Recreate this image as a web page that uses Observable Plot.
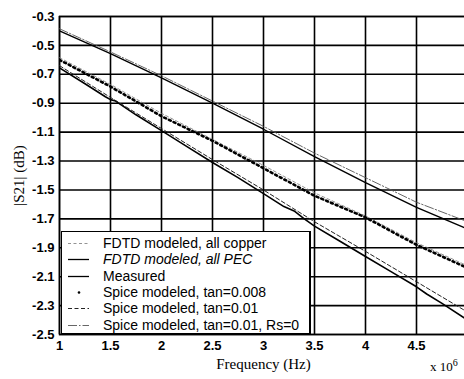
<!DOCTYPE html>
<html>
<head>
<meta charset="utf-8">
<script src="https://cdn.jsdelivr.net/npm/d3@7"></script>
<script src="https://cdn.jsdelivr.net/npm/@observablehq/plot@0.6"></script>
<style>
  html, body { margin: 0; padding: 0; background: #fff; }
  #wrap { position: relative; width: 464px; height: 379px; overflow: hidden; }
  #wrap svg g[aria-label="x-axis label"] text,
  #wrap svg g[aria-label="y-axis label"] text {
    font-family: "Liberation Serif", "DejaVu Serif", serif; font-weight: normal; font-size: 15px;
  }
  #legend {
    position: absolute; left: 61px; top: 231px; width: 247px; height: 101px;
    background: #fff; border: 1.3px solid #000; border-right-width: 2.2px;
    font-family: "Liberation Sans", Arial, sans-serif; font-size: 14px; color: #000;
  }
  #legend .row { position: absolute; left: 0; height: 16px; line-height: 16px; white-space: nowrap; }
  #legend .row svg { position: absolute; left: 6px; top: 0; }
  #legend .row span { position: absolute; left: 41px; top: 0; }
  #exp { position: absolute; left: 430px; top: 359px; line-height: 16px; font-family: "Liberation Serif", serif; font-size: 13px; }
  #exp sup { font-size: 10px; line-height: 0; }
</style>
</head>
<body>
<div id="wrap"></div>
<script>
// ---- data ----
const freq = [1, 1.5, 2, 2.5, 3, 3.5, 4, 4.5, 5];           // x 10^6 Hz
const fdtdCopper = [-0.585, -0.77, -0.97, -1.15, -1.33, -1.52, -1.68, -1.865, -2.025];
const fdtdPEC    = [-0.40, -0.557, -0.725, -0.90, -1.08, -1.27, -1.45, -1.62, -1.77];
const spice008   = [-0.60, -0.785, -0.99, -1.16, -1.35, -1.54, -1.69, -1.88, -2.04];
const spice01    = [-0.64, -0.86, -1.075, -1.29, -1.50, -1.72, -1.925, -2.135, -2.345];
const spiceRs0   = [-0.385, -0.545, -0.71, -0.885, -1.06, -1.245, -1.415, -1.585, -1.72];
const measFreq   = [1, 1.25, 1.45, 1.5, 1.55, 1.75, 2, 2.25, 2.5, 2.75, 3, 3.2, 3.3, 3.4, 3.5, 3.75, 4, 4.25, 4.5, 4.6, 4.75, 5];
const measured   = [-0.655, -0.765, -0.855, -0.875, -0.885, -0.98, -1.09, -1.2, -1.31, -1.415, -1.525, -1.615, -1.645, -1.70, -1.75, -1.855, -1.96, -2.065, -2.17, -2.22, -2.285, -2.40];
const xTicks = [1, 1.5, 2, 2.5, 3, 3.5, 4, 4.5, 5];
const yTicks = [-0.3, -0.5, -0.7, -0.9, -1.1, -1.3, -1.5, -1.7, -1.9, -2.1, -2.3, -2.5];
const legendLabels = [
  "FDTD modeled, all copper",
  "FDTD modeled, all PEC",
  "Measured",
  "Spice modeled, tan=0.008",
  "Spice modeled, tan=0.01",
  "Spice modeled, tan=0.01, Rs=0"
];

// ---- build tables ----
const toRows = (ys, xs = freq) => ys.map((y, i) => ({x: xs[i], y}));
const styles = [
  {data: toRows(fdtdCopper), stroke: "#777", strokeWidth: 0.8, dash: "3,2.5", italic: false},
  {data: toRows(fdtdPEC),    stroke: "#000", strokeWidth: 1.4, dash: null, italic: true},
  {data: toRows(measured, measFreq), stroke: "#000", strokeWidth: 1.6, dash: null, italic: false},
  {data: toRows(spice008),   stroke: "#000", strokeWidth: 2.6, dash: "2,3.2", italic: false, dot: true},
  {data: toRows(spice01),    stroke: "#222", strokeWidth: 1.0, dash: "4,2.5", italic: false},
  {data: toRows(spiceRs0),   stroke: "#555", strokeWidth: 0.9, dash: "9,2,1.5,2", italic: false}
];

const lineMarks = styles.map(s => Plot.line(s.data, {
  x: "x", y: "y", stroke: s.stroke, strokeWidth: s.strokeWidth,
  strokeDasharray: s.dash || undefined, clip: true
}));

const chart = Plot.plot({
  width: 464, height: 379,
  marginLeft: 59, marginRight: -3, marginTop: 16, marginBottom: 45,
  style: {fontFamily: "Liberation Sans, Arial, sans-serif", fontSize: "13px", fontWeight: "bold", color: "#000", background: "#fff"},
  x: {domain: [1, 5]},
  y: {domain: [-2.5, -0.3]},
  marks: [
    Plot.gridX(xTicks, {stroke: "#000", strokeOpacity: 1, strokeWidth: 1.6}),
    Plot.gridY(yTicks, {stroke: "#000", strokeOpacity: 1, strokeWidth: 1.6}),
    Plot.frame({stroke: "#000", strokeWidth: 1.5}),
    ...lineMarks,
    Plot.axisX(xTicks, {tickSize: 0, tickPadding: 6, tickFormat: d => String(d),
      label: "Frequency (Hz)", labelAnchor: "center", labelArrow: "none", labelOffset: 34}),
    Plot.axisY(yTicks, {tickSize: 0, tickPadding: 5, tickFormat: d => d.toFixed(1),
      label: "|S21| (dB)", labelAnchor: "center", labelArrow: "none", labelOffset: 46})
  ]
});

const wrap = document.getElementById("wrap");
wrap.appendChild(chart);

// legend
const legend = document.createElement("div");
legend.id = "legend";
styles.forEach((s, i) => {
  const row = document.createElement("div");
  row.className = "row";
  row.style.top = (3 + i * 16.3) + "px";
  let sample;
  if (s.dot) {
    sample = `<svg width="22" height="16"><circle cx="11" cy="8.5" r="1.3" fill="#000"/></svg>`;
  } else {
    sample = `<svg width="22" height="16"><line x1="0" x2="21" y1="8.5" y2="8.5" stroke="${s.stroke}" stroke-width="${Math.min(s.strokeWidth, 1.3)}" ${s.dash ? `stroke-dasharray="${s.dash}"` : ""}/></svg>`;
  }
  row.innerHTML = sample + `<span style="font-style:${s.italic ? "italic" : "normal"}">${legendLabels[i]}</span>`;
  legend.appendChild(row);
});
wrap.appendChild(legend);

const exp = document.createElement("div");
exp.id = "exp";
exp.innerHTML = "x 10<sup>6</sup>";
wrap.appendChild(exp);
</script>
</body>
</html>
